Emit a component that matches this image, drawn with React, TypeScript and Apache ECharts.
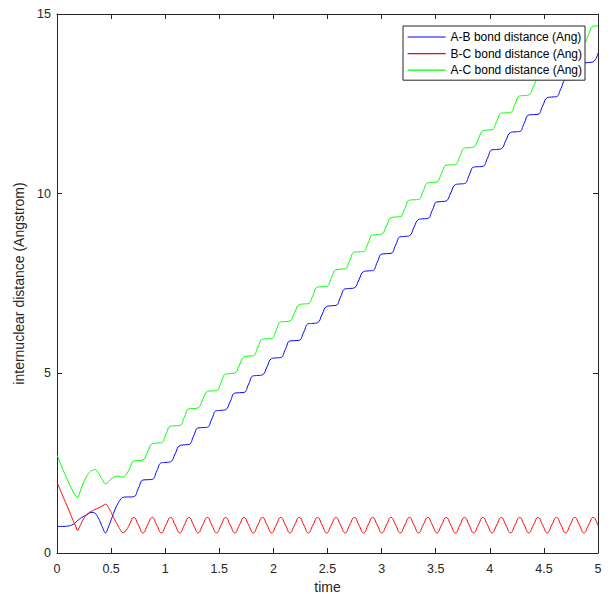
import React, { useEffect, useRef } from "react";
import * as echarts from "echarts";

// time samples (x values)
const times = [
  0, 0.05, 0.1, 0.15, 0.175, 0.189, 0.21, 0.24, 0.27, 0.3, 0.325, 0.35, 0.375, 0.4, 0.425, 0.448, 0.47, 0.49, 0.51,
  0.535, 0.56, 0.585, 0.611, 0.64,
  0.668, 0.71, 0.752, 0.795, 0.837, 0.88, 0.922, 0.965, 1.007, 1.05, 1.092, 1.135, 1.177, 1.219, 1.262, 1.304,
  1.347, 1.389, 1.431, 1.474, 1.517, 1.559, 1.601, 1.644, 1.686, 1.729, 1.771, 1.814, 1.856, 1.899, 1.941, 1.984,
  2.026, 2.068, 2.111, 2.153, 2.196, 2.238, 2.281, 2.323, 2.366, 2.408, 2.45, 2.493, 2.535, 2.578, 2.62, 2.663,
  2.705, 2.748, 2.79, 2.833, 2.875, 2.917, 2.96, 3.002, 3.045, 3.087, 3.13, 3.172, 3.215, 3.257, 3.299, 3.342,
  3.384, 3.427, 3.469, 3.512, 3.554, 3.597, 3.639, 3.682, 3.724, 3.766, 3.809, 3.851, 3.894, 3.936, 3.979, 4.021,
  4.064, 4.106, 4.148, 4.191, 4.233, 4.276, 4.318, 4.361, 4.403, 4.446, 4.488, 4.531, 4.573, 4.615, 4.658, 4.7,
  4.743, 4.785, 4.828, 4.87, 4.913, 4.955, 5.0,
];

// A-B bond distance (Ang)
const abDistance = [
  0.74, 0.74, 0.75, 0.8, 0.86, 0.9, 0.95, 1.01, 1.06, 1.11, 1.13, 1.11, 1.01, 0.86, 0.68, 0.56, 0.68, 0.84, 1.0,
  1.2, 1.36, 1.48, 1.55, 1.56,
  1.56, 1.57, 1.8, 2.03, 2.04, 2.05, 2.28, 2.51, 2.52, 2.54, 2.76, 2.99, 3.01, 3.02, 3.25, 3.48,
  3.49, 3.5, 3.73, 3.96, 3.97, 3.99, 4.22, 4.45, 4.46, 4.47, 4.7, 4.93, 4.94, 4.96, 5.18, 5.41,
  5.43, 5.44, 5.67, 5.9, 5.91, 5.92, 6.15, 6.38, 6.39, 6.41, 6.64, 6.86, 6.88, 6.89, 7.12, 7.35,
  7.36, 7.38, 7.6, 7.83, 7.85, 7.86, 8.09, 8.32, 8.33, 8.34, 8.57, 8.8, 8.81, 8.83, 9.06, 9.28,
  9.3, 9.31, 9.54, 9.77, 9.78, 9.8, 10.02, 10.25, 10.27, 10.28, 10.51, 10.74, 10.75, 10.76, 10.99, 11.22,
  11.23, 11.25, 11.48, 11.7, 11.72, 11.73, 11.96, 12.19, 12.2, 12.21, 12.44, 12.67, 12.69, 12.7, 12.93, 13.16,
  13.17, 13.18, 13.41, 13.64, 13.65, 13.67, 13.91,
];

// B-C bond distance (Ang)
const bcDistance = [
  1.97, 1.61, 1.26, 0.9, 0.73, 0.63, 0.74, 0.92, 1.05, 1.13, 1.17, 1.21, 1.24, 1.28, 1.32, 1.36, 1.29, 1.19, 1.07,
  0.92, 0.78, 0.65, 0.57, 0.64,
  0.78, 0.99, 0.78, 0.56, 0.78, 0.99, 0.78, 0.56, 0.78, 0.99, 0.78, 0.56, 0.78, 0.99, 0.78, 0.56,
  0.78, 0.99, 0.78, 0.56, 0.78, 0.99, 0.78, 0.56, 0.78, 0.99, 0.78, 0.56, 0.78, 0.99, 0.78, 0.56,
  0.78, 0.99, 0.78, 0.56, 0.78, 0.99, 0.78, 0.56, 0.78, 0.99, 0.78, 0.56, 0.78, 0.99, 0.78, 0.56,
  0.78, 0.99, 0.78, 0.56, 0.78, 0.99, 0.78, 0.56, 0.78, 0.99, 0.78, 0.56, 0.78, 0.99, 0.78, 0.56,
  0.78, 0.99, 0.78, 0.56, 0.78, 0.99, 0.78, 0.56, 0.78, 0.99, 0.78, 0.56, 0.78, 0.99, 0.78, 0.56,
  0.78, 0.99, 0.78, 0.56, 0.78, 0.99, 0.78, 0.56, 0.78, 0.99, 0.78, 0.56, 0.78, 0.99, 0.78, 0.56,
  0.78, 0.99, 0.78, 0.56, 0.78, 0.99, 0.76,
];

// A-C bond distance (Ang)
const acDistance = [
  2.73, 2.36, 2.01, 1.7, 1.59, 1.55, 1.68, 1.92, 2.11, 2.24, 2.3, 2.32, 2.26, 2.14, 2.01, 1.93, 1.96, 2.03, 2.08,
  2.12, 2.14, 2.13, 2.11, 2.19,
  2.33, 2.56, 2.57, 2.59, 2.81, 3.04, 3.06, 3.07, 3.3, 3.53, 3.54, 3.55, 3.78, 4.01, 4.02, 4.04,
  4.27, 4.49, 4.51, 4.52, 4.75, 4.98, 4.99, 5.01, 5.23, 5.46, 5.48, 5.49, 5.72, 5.95, 5.96, 5.97,
  6.2, 6.43, 6.44, 6.46, 6.69, 6.91, 6.93, 6.94, 7.17, 7.4, 7.41, 7.42, 7.65, 7.88, 7.9, 7.91,
  8.14, 8.37, 8.38, 8.39, 8.62, 8.85, 8.86, 8.88, 9.1, 9.33, 9.35, 9.36, 9.59, 9.82, 9.83, 9.84,
  10.07, 10.3, 10.31, 10.33, 10.56, 10.79, 10.8, 10.81, 11.04, 11.27, 11.28, 11.3, 11.52, 11.75, 11.77, 11.78,
  12.01, 12.24, 12.25, 12.26, 12.49, 12.72, 12.73, 12.75, 12.98, 13.2, 13.22, 13.23, 13.46, 13.69, 13.7, 13.72,
  13.94, 14.17, 14.19, 14.2, 14.43, 14.66, 14.67,
];

const seriesNames = ["A-B bond distance (Ang)", "B-C bond distance (Ang)", "A-C bond distance (Ang)"];
const seriesColors = ["#0000ff", "#ff0000", "#00ff00"];
const seriesValues = [abDistance, bcDistance, acDistance];

const xRange = { min: 0, max: 5, interval: 0.5 };
const yRange = { min: 0, max: 15, interval: 5 };
const xTitle = "time";
const yTitle = "internuclear distance (Angstrom)";

export default function App() {
  const ref = useRef<HTMLDivElement>(null);

  useEffect(() => {
    document.body.style.margin = "0";
    const chart = echarts.init(ref.current as HTMLDivElement, null, { renderer: "svg" });
    const axisColor = "#262626";
    const font = "'Liberation Sans', Arial, sans-serif";

    const tick = { show: true, inside: true, length: 5, lineStyle: { color: axisColor, width: 1 } };
    const line = { show: true, onZero: false, lineStyle: { color: axisColor, width: 1 } };

    const option: any = {
      animation: false,
      backgroundColor: "#ffffff",
      grid: { left: 57, right: 16, top: 14, bottom: 41, containLabel: false, outerBoundsMode: "none" },
      legend: {
        orient: "vertical",
        left: 403,
        top: 26,
        itemWidth: 38,
        itemHeight: 14,
        itemGap: 2.6,
        padding: [4, 3, 3, 4],
        borderColor: axisColor,
        borderWidth: 1,
        borderRadius: 0,
        backgroundColor: "#ffffff",
        itemStyle: { opacity: 0 },
        textStyle: { fontSize: 12, lineHeight: 14, color: "#000000", fontFamily: font },
        data: seriesNames.map((name, i) => ({
          name,
          itemStyle: { color: seriesColors[i], opacity: 0 },
          lineStyle: { color: seriesColors[i], width: 1.2, opacity: 1 },
        })),
      },
      xAxis: [
        {
          type: "value",
          position: "bottom",
          ...xRange,
          axisLine: line,
          axisTick: tick,
          axisLabel: { color: axisColor, fontSize: 12.5, margin: 9, fontFamily: font },
          splitLine: { show: false },
          name: xTitle,
          nameLocation: "middle",
          nameGap: 28,
          nameTextStyle: { color: axisColor, fontSize: 14, lineHeight: 12, fontFamily: font },
        },
        {
          type: "value",
          position: "top",
          ...xRange,
          axisLine: line,
          axisTick: tick,
          axisLabel: { show: false },
          splitLine: { show: false },
        },
      ],
      yAxis: [
        {
          type: "value",
          position: "left",
          ...yRange,
          axisLine: line,
          axisTick: tick,
          axisLabel: { color: axisColor, fontSize: 12.5, margin: 6, fontFamily: font },
          splitLine: { show: false },
          name: yTitle,
          nameLocation: "middle",
          nameGap: 18,
          nameTextStyle: { color: axisColor, fontSize: 14, fontFamily: font },
        },
        {
          type: "value",
          position: "right",
          ...yRange,
          axisLine: line,
          axisTick: tick,
          axisLabel: { show: false },
          splitLine: { show: false },
        },
      ],
      series: seriesNames.map((name, s) => ({
        name,
        type: "line",
        xAxisIndex: 0,
        yAxisIndex: 0,
        data: times.map((t, i) => [t, seriesValues[s][i]]),
        smooth: true,
        symbol: "none",
        showSymbol: false,
        lineStyle: { color: seriesColors[s], width: 1 },
        itemStyle: { color: seriesColors[s] },
        emphasis: { disabled: true },
      })),
    };

    chart.setOption(option);
    return () => chart.dispose();
  }, []);

  return <div ref={ref} style={{ width: 614, height: 594 }} />;
}
